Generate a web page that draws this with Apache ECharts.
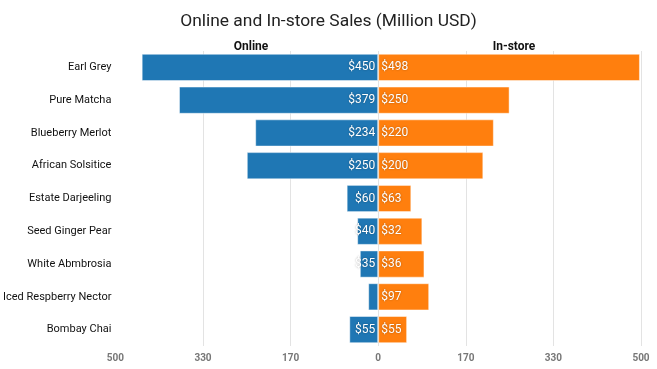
<!DOCTYPE html>
<html>
<head>
<meta charset="utf-8">
<script src="https://cdn.jsdelivr.net/npm/echarts@6/dist/echarts.min.js"></script>
<style>html,body{margin:0;padding:0;background:#fff}#c{width:657px;height:369px}</style>
</head>
<body>
<div id="c"></div>
<script>
var categories = ['Earl Grey','Pure Matcha','Blueberry Merlot','African Solsitice','Estate Darjeeling','Seed Ginger Pear','White Abmbrosia','Iced Respberry Nector','Bombay Chai'];
var onlineValues = [450, 379, 234, 250, 60, 40, 35, 19, 55];
var instoreValues = [498, 250, 220, 200, 63, 84, 88, 97, 55];
var onlineLabels = ['$450','$379','$234','$250','$60','$40','$35','','$55'];
var instoreLabels = ['$498','$250','$220','$200','$63','$32','$36','$97','$55'];
var tickInterval = 500 / 3;

var chart = echarts.init(document.getElementById('c'));
var FONT = 'Roboto';
var labelStyle = { color: '#fff', fontSize: 12, fontFamily: FONT,
  textShadowColor: 'rgba(0,0,0,0.35)', textShadowBlur: 2 };
chart.setOption({
  animation: false,
  textStyle: { fontFamily: FONT },
  title: [
    { text: 'Online and In-store Sales (Million USD)', left: 'center', top: 8,
      textStyle: { fontFamily: FONT, fontSize: 17.4, fontWeight: 'normal', color: '#222' } },
    { text: 'Online', left: 246, top: 36, textAlign: 'center',
      textStyle: { fontFamily: FONT, fontSize: 12, fontWeight: 'bold', color: '#111' } },
    { text: 'In-store', left: 509, top: 36, textAlign: 'center',
      textStyle: { fontFamily: FONT, fontSize: 12, fontWeight: 'bold', color: '#111' } }
  ],
  grid: { left: 114, right: 16, top: 51, bottom: 23, containLabel: false },
  xAxis: {
    type: 'value', min: -500, max: 500, interval: tickInterval,
    axisLine: { show: false }, axisTick: { show: false },
    axisLabel: { margin: 7, color: '#777', fontSize: 10, fontWeight: 'bold', fontFamily: FONT,
      formatter: function (v) { return String(Math.round(Math.abs(v) / 10) * 10); } },
    splitLine: { show: true, showMinLine: false, showMaxLine: false, lineStyle: { color: '#e3e3e3', width: 1 } }
  },
  yAxis: {
    type: 'category', data: categories, inverse: true,
    axisLine: { show: false, onZero: false }, axisTick: { show: false },
    axisLabel: { margin: 4, color: '#111', fontSize: 11, fontFamily: FONT },
    splitLine: { show: false }
  },
  series: [
    {
      name: 'Online', type: 'bar', barGap: '-100%', barCategoryGap: '17%',
      data: onlineValues.map(function (v) { return -v; }),
      itemStyle: { color: '#1f77b4', borderColor: 'rgba(255,255,255,0.45)', borderWidth: 1 },
      label: Object.assign({ show: true, position: 'insideRight', distance: 3,
        formatter: function (p) { return onlineLabels[p.dataIndex]; } }, labelStyle)
    },
    {
      name: 'In-store', type: 'bar', barGap: '-100%', barCategoryGap: '17%',
      data: instoreValues,
      itemStyle: { color: '#ff7f0e', borderColor: 'rgba(255,255,255,0.45)', borderWidth: 1 },
      label: Object.assign({ show: true, position: 'insideLeft', distance: 3,
        formatter: function (p) { return instoreLabels[p.dataIndex]; } }, labelStyle)
    }
  ]
});
</script>
</body>
</html>
